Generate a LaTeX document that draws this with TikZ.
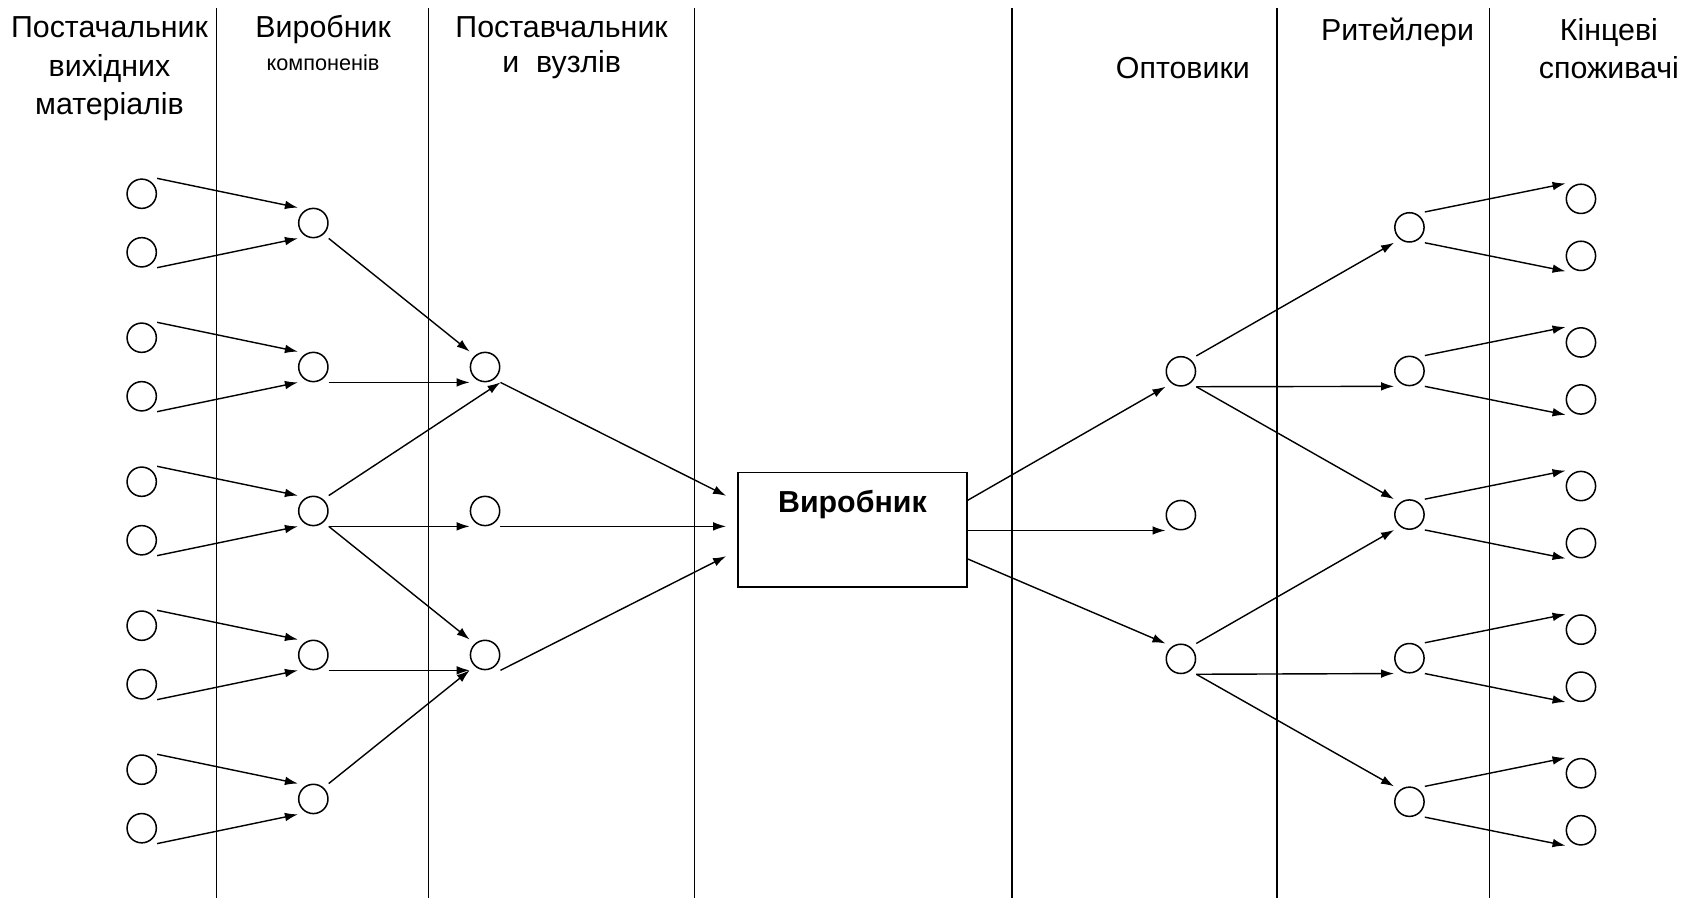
\documentclass[tikz,border=0pt]{standalone}
\usepackage{fontspec}
\setmainfont{Liberation Sans}
\usetikzlibrary{arrows.meta,calc}
\begin{document}
\begin{tikzpicture}[x=1pt,y=-1pt,
  nd/.style={circle,draw,line width=1.4pt,minimum size=27pt,inner sep=0pt},
  sepline/.style={line width=1.3pt},
  conn/.style={line width=1.3pt,-{Latex[length=12pt,width=8pt]}},
  hdr/.style={font=\fontsize{28}{34}\selectfont,anchor=base,inner sep=0pt},
  smallhdr/.style={font=\fontsize{20}{24}\selectfont,anchor=base,inner sep=0pt},
  boxtext/.style={font=\fontsize{28}{34}\selectfont\bfseries,anchor=base,inner sep=0pt}]
\useasboundingbox (0,0) rectangle (1568,832);
% column separators
\foreach \x in {199.5,395.2,640.5,933.3,1177.7,1373.9}
  \draw[sepline] (\x,7.5) -- (\x,828);
% headers
\node[hdr] (h1a) at (101,35) {Постачальник};
\node[hdr] (h1b) at (101,71) {вихідних};
\node[hdr] (h1c) at (101,106) {матеріалів};
\node[hdr] (h2a) at (298,35) {Виробник};
\node[smallhdr] (h2b) at (298,65) {компоненів};
\node[hdr] (h3a) at (518,35) {Поставчальник};
\node[hdr] (h3b) at (518,67) {и~~вузлів};
\node[hdr] (h5) at (1091,72) {Оптовики};
\node[hdr] (h6) at (1289,37) {Ритейлери};
\node[hdr] (h7a) at (1484,37) {Кінцеві};
\node[hdr] (h7b) at (1484,72) {споживачі};
% nodes
\foreach \k in {1,...,5} {
  \pgfmathsetmacro\by{205.7+132.8*(\k-1)}
  \pgfmathtruncatemacro\u{2*\k-1}
  \pgfmathtruncatemacro\l{2*\k}
  \node[nd] (b\k) at (289,\by) {};
  \node[nd] (a\u) at (130.7,\by-27) {};
  \node[nd] (a\l) at (130.7,\by+27) {};
  \pgfmathsetmacro\ey{209.7+132.45*(\k-1)}
  \node[nd] (e\k) at (1300,\ey) {};
  \node[nd] (f\u) at (1458.2,\ey-26.3) {};
  \node[nd] (f\l) at (1458.2,\ey+26.3) {};
}
\node[nd] (c1) at (447.4,338.5) {};
\node[nd] (c2) at (447.4,471.3) {};
\node[nd] (c3) at (447.4,604.1) {};
\node[nd] (d1) at (1089.2,342.5) {};
\node[nd] (d2) at (1089.2,475.1) {};
\node[nd] (d3) at (1089.2,607.7) {};
\node[draw,line width=1.4pt,minimum width=211.3pt,minimum height=105.5pt,inner sep=0pt] (box) at (786.1,488.5) {};
\node[boxtext] (boxlabel) at (786.2,472.5) {Виробник};
\coordinate (bin1) at ($(box.west)+(-10,-31.2)$);
\coordinate (bin2) at ([xshift=-10pt]box.west |- c2.south);
\coordinate (bin3) at ($(box.west)+(-10,24.5)$);
\coordinate (bout1) at ($(box.east)+(0,-27)$);
\coordinate (bout2) at (box.east |- d2.south);
\coordinate (bout3) at ($(box.east)+(0,27)$);
% connectors: pairs
\foreach \k in {1,...,5} {
  \pgfmathtruncatemacro\u{2*\k-1}
  \pgfmathtruncatemacro\l{2*\k}
  \draw[conn] (a\u.east |- a\u.north) -- (b\k.west |- b\k.north);
  \draw[conn] (a\l.east |- a\l.south) -- (b\k.west |- b\k.south);
  \draw[conn] (e\k.east |- e\k.north) -- (f\u.west |- f\u.north);
  \draw[conn] (e\k.east |- e\k.south) -- (f\l.west |- f\l.south);
}
% col2 -> col3
\draw[conn] (b1.east |- b1.south) -- (c1.west |- c1.north);
\draw[conn] (b2.east |- b2.south) -- (c1.west |- c1.south);
\draw[conn] (b3.east |- b3.north) -- (c1.east |- c1.south);
\draw[conn] (b3.east |- b3.south) -- (c2.west |- c2.south);
\draw[conn] (b3.east |- b3.south) -- (c3.west |- c3.north);
\draw[conn] (b4.east |- b4.south) -- (c3.west |- c3.south);
\draw[conn] (b5.east |- b5.north) -- (c3.west |- c3.south);
% col3 -> box
\draw[conn] (c1.east |- c1.south) -- (bin1);
\draw[conn] (c2.east |- c2.south) -- (bin2);
\draw[conn] (c3.east |- c3.south) -- (bin3);
% box -> wholesalers
\draw[conn] (bout1) -- (d1.west |- d1.south);
\draw[conn] (bout2) -- (d2.west |- d2.south);
\draw[conn] (bout3) -- (d3.west |- d3.north);
% wholesalers -> retailers
\draw[conn] (d1.east |- d1.north) -- (e1.west |- e1.south);
\draw[conn] (d1.east |- d1.south) -- (e2.west |- e2.south);
\draw[conn] (d1.east |- d1.south) -- (e3.west |- e3.north);
\draw[conn] (d3.east |- d3.north) -- (e3.west |- e3.south);
\draw[conn] (d3.east |- d3.south) -- (e4.west |- e4.south);
\draw[conn] (d3.east |- d3.south) -- (e5.west |- e5.north);
\end{tikzpicture}
\end{document}
